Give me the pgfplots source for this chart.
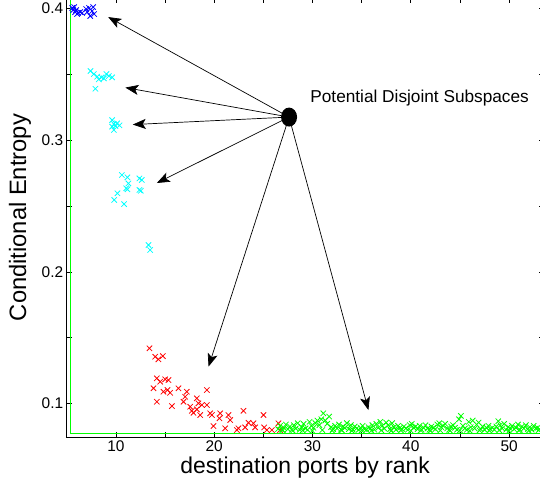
\documentclass[border=0pt]{standalone}
\usepackage{pgfplots}
\pgfplotsset{compat=1.18}
\usepackage{fontspec}
\setmainfont{Liberation Sans}
\usetikzlibrary{arrows.meta}
\begin{document}
\begin{tikzpicture}
\begin{axis}[
  scale only axis, width=476.8bp, height=438.9bp,
  xmin=5, xmax=53.5, ymin=0.0745, ymax=0.408,
  xtick={10,20,30,40,50}, ytick={0.1,0.2,0.3,0.4},
  minor xtick={15,25,35,45}, minor ytick={0.15,0.25,0.35},
  tick align=inside, major tick length=5bp, minor tick length=5bp,
  tick style={black, line width=0.6bp},
  axis line style={line width=0.8bp},
  /pgf/number format/assume math mode=true,
  yticklabel style={/pgf/number format/fixed, /pgf/number format/precision=1, /pgf/number format/fixed zerofill, font=\fontsize{15.5}{18}\selectfont},
  xticklabel style={font=\fontsize{15.5}{18}\selectfont},
  xlabel={destination ports by rank}, ylabel={Conditional Entropy},
  every axis x label/.style={at={(rel axis cs:0.5,0)}, anchor=center, yshift=-31bp, font=\fontsize{23}{27}\selectfont},
  every axis y label/.style={at={(axis description cs:-0.098,0.5)}, rotate=90, anchor=center, font=\fontsize{23.8}{28}\selectfont},
  mark size=3.8bp,
]
\coordinate (BL) at (rel axis cs:0,0);
% green L-shaped line
\addplot[color={rgb,255:red,0;green,255;blue,0}, line width=1.1bp, no marks] coordinates {(5.35,0.41) (5.35,0.0775) (53.6,0.0775)};
% blue
\addplot[only marks, mark=x, color=blue, mark options={line width=0.8bp}] coordinates {
(5.56,0.4005) (5.66,0.3989) (5.76,0.4012) (5.86,0.3974) (5.96,0.3989) (6.06,0.3959) (6.16,0.3967) (6.37,0.3974)
(6.57,0.3967) (6.98,0.3997) (7.08,0.3974) (7.28,0.4005) (7.39,0.3944) (7.59,0.3982) (7.69,0.4012) (7.79,0.3959)};
% cyan
\addplot[only marks, mark=x, color={rgb,255:red,0;green,255;blue,255}, mark options={line width=0.8bp}] coordinates {
(7.42,0.3526) (7.76,0.3503) (8.10,0.3483) (8.27,0.3463) (8.54,0.3478) (8.78,0.3470) (9.04,0.3503) (9.29,0.3488) (9.62,0.3478) (7.92,0.3391)
(9.62,0.3153) (9.80,0.3123) (9.96,0.3108) (10.13,0.3128) (10.37,0.3113) (9.62,0.3103) (9.80,0.3078)
(10.61,0.2736) (11.18,0.2718) (11.28,0.2672) (11.05,0.2635) (11.18,0.2627) (12.40,0.2710) (12.64,0.2698) (12.40,0.2622) (12.54,0.2616) (10.16,0.2597) (9.83,0.2546) (10.84,0.2515)
(13.32,0.2204) (13.49,0.2166)};
% red
\addplot[only marks, mark=x, color=red, mark options={line width=0.8bp}] coordinates {
(13.42,0.1419) (14.00,0.1355) (14.33,0.1335) (14.78,0.1360) (14.17,0.1191) (14.51,0.1165) (15.02,0.1183) (15.35,0.1178)
(13.83,0.1115) (14.84,0.1089) (15.25,0.1102) (15.52,0.1081) (14.17,0.1013) (15.70,0.0980) (16.37,0.1115) (16.88,0.1013)
(17.22,0.1089) (17.05,0.1051) (17.56,0.0975) (17.73,0.0944) (17.89,0.0929) (18.24,0.1039) (18.40,0.1001) (18.75,0.0988)
(18.24,0.0955) (18.58,0.0912) (19.26,0.1102) (19.26,0.0988) (19.59,0.0925) (19.77,0.0912) (19.93,0.0828) (20.61,0.0925)
(20.54,0.0887) (21.12,0.0811) (21.45,0.0912) (21.63,0.0874) (22.31,0.0798) (22.47,0.0811) (22.98,0.0944) (23.15,0.0818)
(23.49,0.0853) (24.00,0.0849) (24.17,0.0818) (25.02,0.0912) (25.09,0.0818) (25.36,0.0798) (25.87,0.0798) (26.54,0.0849) (26.71,0.0798)};
% green
\addplot[only marks, mark=x, color={rgb,255:red,0;green,255;blue,0}, mark options={line width=0.8bp}] coordinates {
(26.5,0.0805) (26.7,0.0830) (26.9,0.0800) (27.1,0.0815) (27.3,0.0840) (27.5,0.0805) (27.7,0.0825) (27.9,0.0800)
(28.1,0.0835) (28.3,0.0810) (28.5,0.0850) (28.7,0.0800) (28.9,0.0820) (29.1,0.0845) (29.3,0.0810) (29.5,0.0800)
(29.7,0.0860) (29.9,0.0830) (30.1,0.0815) (30.3,0.0850) (30.5,0.0870) (30.7,0.0835) (30.9,0.0880) (31.1,0.0925)
(31.3,0.0870) (31.5,0.0845) (31.7,0.0900) (31.9,0.0820) (32.1,0.0805) (32.3,0.0830) (32.5,0.0810) (32.7,0.0840)
(32.9,0.0800) (33.1,0.0825) (33.3,0.0815) (33.5,0.0850) (33.7,0.0805) (33.9,0.0835) (34.1,0.0800) (34.3,0.0825)
(34.5,0.0810) (34.7,0.0800) (34.9,0.0815) (35.1,0.0830) (35.3,0.0805) (35.5,0.0800) (35.7,0.0820) (35.9,0.0810)
(36.1,0.0835) (36.3,0.0800) (36.5,0.0845) (36.7,0.0815) (36.9,0.0860) (37.1,0.0830) (37.3,0.0810) (37.5,0.0855)
(37.7,0.0835) (37.9,0.0805) (38.1,0.0850) (38.3,0.0820) (38.5,0.0800) (38.7,0.0830) (38.9,0.0815) (39.1,0.0805)
(39.3,0.0825) (39.5,0.0810) (39.7,0.0800) (39.9,0.0835) (40.1,0.0845) (40.3,0.0815) (40.5,0.0825) (40.7,0.0805)
(40.9,0.0830) (41.1,0.0800) (41.3,0.0815) (41.5,0.0835) (41.7,0.0810) (41.9,0.0800) (42.1,0.0825) (42.3,0.0815)
(42.5,0.0805) (42.7,0.0840) (42.9,0.0850) (43.1,0.0820) (43.3,0.0830) (43.5,0.0845) (43.7,0.0810) (43.9,0.0800)
(44.1,0.0825) (44.3,0.0835) (44.5,0.0815) (44.7,0.0800) (44.9,0.0880) (45.1,0.0905) (45.3,0.0830) (45.5,0.0810)
(45.7,0.0800) (45.9,0.0860) (46.1,0.0820) (46.3,0.0870) (46.5,0.0810) (46.7,0.0840) (46.9,0.0855) (47.1,0.0805)
(47.3,0.0825) (47.5,0.0800) (47.7,0.0815) (47.9,0.0830) (48.1,0.0805) (48.3,0.0815) (48.5,0.0800) (48.7,0.0825)
(48.9,0.0865) (49.1,0.0835) (49.3,0.0810) (49.5,0.0845) (49.7,0.0800) (49.9,0.0820) (50.1,0.0810) (50.3,0.0830)
(50.5,0.0805) (50.7,0.0815) (50.9,0.0840) (51.1,0.0800) (51.3,0.0825) (51.5,0.0810) (51.7,0.0835) (51.9,0.0805)
(52.1,0.0820) (52.3,0.0800) (52.5,0.0830) (52.7,0.0810) (52.9,0.0815) (53.1,0.0805)
(27.0,0.0795) (28.0,0.0792) (29.0,0.0795) (30.0,0.0792) (31.0,0.0798) (32.0,0.0793) (33.0,0.0796) (34.0,0.0792)
(35.0,0.0795) (36.0,0.0793) (37.0,0.0796) (38.0,0.0792) (39.0,0.0795) (40.0,0.0793) (41.0,0.0796) (42.0,0.0792)
(43.0,0.0795) (44.0,0.0793) (45.0,0.0796) (46.0,0.0792) (47.0,0.0795) (48.0,0.0793) (49.0,0.0796) (50.0,0.0792)
(51.0,0.0795) (52.0,0.0793) (53.0,0.0796)};
% annotation
\fill (axis cs:27.62,0.3176) ellipse [x radius=8bp, y radius=9.5bp];
\draw[-{Stealth[length=13bp,width=10bp,inset=3bp]}, line width=0.7bp] (axis cs:27.62,0.3176) -- (axis cs:9.22,0.3936);
\draw[-{Stealth[length=13bp,width=10bp,inset=3bp]}, line width=0.7bp] (axis cs:27.62,0.3176) -- (axis cs:10.97,0.3400);
\draw[-{Stealth[length=13bp,width=10bp,inset=3bp]}, line width=0.7bp] (axis cs:27.62,0.3176) -- (axis cs:11.72,0.3119);
\draw[-{Stealth[length=13bp,width=10bp,inset=3bp]}, line width=0.7bp] (axis cs:27.62,0.3176) -- (axis cs:14.17,0.2675);
\draw[-{Stealth[length=13bp,width=10bp,inset=3bp]}, line width=0.7bp] (axis cs:27.62,0.3176) -- (axis cs:19.43,0.1280);
\draw[-{Stealth[length=13bp,width=10bp,inset=3bp]}, line width=0.7bp] (axis cs:27.62,0.3176) -- (axis cs:35.69,0.0950);
\node[anchor=west, font=\fontsize{17.3}{20}\selectfont, inner sep=0pt] at (axis cs:29.77,0.3321) {Potential Disjoint Subspaces};
\end{axis}
\pgfresetboundingbox
\path[use as bounding box] ([xshift=-66.7bp,yshift=-51bp]BL) rectangle ([xshift=473.3bp,yshift=437bp]BL);
\end{tikzpicture}
\end{document}
